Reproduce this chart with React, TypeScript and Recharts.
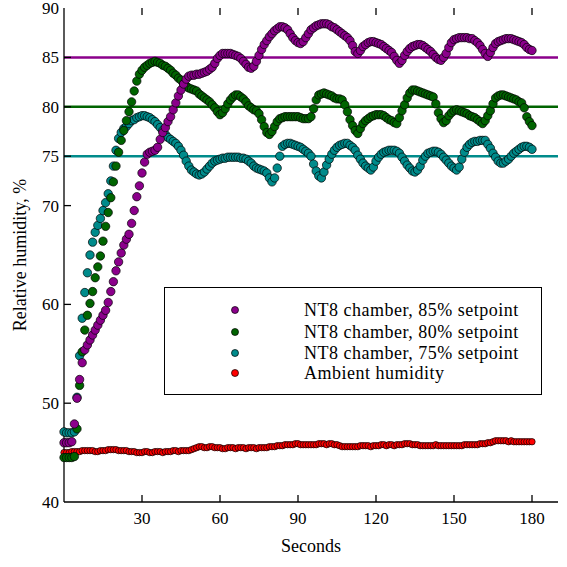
import { ScatterChart, Scatter, XAxis, YAxis, ReferenceLine } from "recharts";

// time of each sample, s
const seconds = [
  0, 1, 2, 3, 4, 5, 6, 7, 8, 9,
  10, 11, 12, 13, 14, 15, 16, 17, 18, 19,
  20, 21, 22, 23, 24, 25, 26, 27, 28, 29,
  30, 31, 32, 33, 34, 35, 36, 37, 38, 39,
  40, 41, 42, 43, 44, 45, 46, 47, 48, 49,
  50, 51, 52, 53, 54, 55, 56, 57, 58, 59,
  60, 61, 62, 63, 64, 65, 66, 67, 68, 69,
  70, 71, 72, 73, 74, 75, 76, 77, 78, 79,
  80, 81, 82, 83, 84, 85, 86, 87, 88, 89,
  90, 91, 92, 93, 94, 95, 96, 97, 98, 99,
  100, 101, 102, 103, 104, 105, 106, 107, 108, 109,
  110, 111, 112, 113, 114, 115, 116, 117, 118, 119,
  120, 121, 122, 123, 124, 125, 126, 127, 128, 129,
  130, 131, 132, 133, 134, 135, 136, 137, 138, 139,
  140, 141, 142, 143, 144, 145, 146, 147, 148, 149,
  150, 151, 152, 153, 154, 155, 156, 157, 158, 159,
  160, 161, 162, 163, 164, 165, 166, 167, 168, 169,
  170, 171, 172, 173, 174, 175, 176, 177, 178, 179,
  180,
];

const chamber85 = [
  46.0, 46.0, 46.0, 46.1, 47.9, 50.5, 52.4, 54.1, 55.4, 55.9,
  56.4, 56.9, 57.4, 57.9, 58.4, 58.9, 59.4, 60.2, 61.3, 62.3,
  63.4, 64.3, 65.2, 66.0, 66.6, 67.1, 68.2, 69.5, 70.9, 72.0,
  73.3, 74.4, 75.2, 75.4, 75.5, 75.6, 75.9, 76.7, 77.4, 77.9,
  78.5, 79.0, 79.7, 80.4, 81.1, 81.7, 82.3, 82.8, 83.1, 83.2,
  83.2, 83.3, 83.3, 83.4, 83.5, 83.6, 83.8, 84.0, 84.4, 84.9,
  85.2, 85.4, 85.4, 85.4, 85.4, 85.3, 85.2, 85.1, 84.9, 84.6,
  84.3, 84.0, 83.9, 84.1, 84.6, 85.2, 85.8, 86.3, 86.7, 87.1,
  87.4, 87.7, 87.9, 88.1, 88.1, 88.0, 87.8, 87.4, 87.0, 86.7,
  86.5, 86.4, 86.6, 87.0, 87.4, 87.8, 88.0, 88.2, 88.3, 88.4,
  88.4, 88.4, 88.3, 88.1, 88.0, 87.8, 87.6, 87.4, 87.2, 87.0,
  86.7, 86.2, 85.6, 85.4, 85.7, 86.1, 86.3, 86.5, 86.6, 86.6,
  86.5, 86.4, 86.3, 86.1, 85.9, 85.7, 85.5, 85.1, 84.7, 84.4,
  84.7, 85.2, 85.6, 85.9, 86.1, 86.2, 86.3, 86.3, 86.2, 86.0,
  85.8, 85.6, 85.3, 85.0, 84.8, 84.7, 85.0, 85.4, 86.0, 86.5,
  86.8, 86.9, 87.0, 87.0, 87.0, 87.0, 86.9, 86.9, 86.7, 86.5,
  86.2, 85.8, 85.4, 85.1, 85.5, 86.0, 86.4, 86.6, 86.7, 86.8,
  86.9, 86.9, 86.9, 86.8, 86.7, 86.6, 86.5, 86.3, 86.0, 85.8,
  85.7,
];

const chamber80 = [
  44.5, 44.5, 44.5, 44.5, 44.6, 47.4, 51.8, 55.2, 57.4, 58.9,
  60.1, 61.3, 62.7, 63.8, 64.9, 66.4, 67.9, 69.3, 70.8, 72.4,
  74.0, 75.4, 76.6, 77.6, 78.6, 79.5, 80.5, 81.6, 82.6, 83.3,
  83.7, 84.0, 84.2, 84.4, 84.5, 84.6, 84.5, 84.4, 84.2, 84.1,
  83.9, 83.7, 83.4, 83.2, 82.9, 82.7, 82.3, 82.1, 81.9, 81.8,
  81.7, 81.6, 81.3, 81.1, 80.9, 80.7, 80.5, 80.2, 79.9, 79.5,
  79.2, 79.4, 79.8, 80.3, 80.7, 81.0, 81.2, 81.2, 81.0, 80.8,
  80.5, 80.1, 79.9, 79.7, 79.6, 79.3, 78.7, 78.0, 77.4, 77.2,
  77.5, 78.0, 78.5, 78.8, 78.9, 79.0, 79.0, 79.0, 79.0, 79.0,
  79.0, 78.9, 78.8, 78.8, 78.8, 79.0, 79.8, 80.7, 81.2, 81.3,
  81.4, 81.3, 81.2, 81.1, 80.9, 80.8, 80.8, 80.7, 80.2, 79.5,
  78.7, 78.1, 77.6, 77.3, 77.8, 78.3, 78.6, 78.8, 79.0, 79.1,
  79.2, 79.2, 79.2, 79.1, 78.9, 78.7, 78.6, 78.4, 78.3, 78.9,
  79.6, 80.2, 80.9, 81.4, 81.7, 81.7, 81.6, 81.5, 81.4, 81.3,
  81.2, 81.1, 81.0, 80.3, 79.4, 78.8, 78.4, 78.6, 79.1, 79.4,
  79.6, 79.7, 79.6, 79.5, 79.4, 79.3, 79.1, 79.0, 78.9, 78.7,
  78.5, 78.3, 78.6, 79.1, 79.6, 80.3, 80.9, 81.1, 81.2, 81.2,
  81.1, 81.0, 80.9, 80.8, 80.7, 80.5, 80.4, 79.9, 79.0, 78.5,
  78.1,
];

const chamber75 = [
  47.1, 47.0, 47.0, 47.0, 47.1, 50.6, 54.8, 58.6, 61.2, 63.2,
  65.0, 66.3, 67.3, 68.0, 68.7, 69.5, 70.3, 71.2, 72.5, 74.0,
  75.6, 76.8, 77.4, 77.8, 78.0, 78.3, 78.6, 78.7, 78.9, 79.0,
  79.1, 79.1, 79.0, 78.9, 78.7, 78.5, 78.2, 77.9, 77.6, 77.2,
  76.9, 76.7, 76.5, 76.3, 76.0, 75.6, 75.1, 74.5, 74.0, 73.6,
  73.4, 73.2, 73.1, 73.2, 73.4, 73.7, 74.0, 74.3, 74.5, 74.6,
  74.7, 74.8, 74.8, 74.9, 74.9, 74.9, 74.9, 74.9, 74.8, 74.8,
  74.7, 74.5, 74.3, 74.0, 73.8, 73.7, 73.6, 73.5, 73.3, 72.8,
  72.4, 72.8, 73.8, 75.0, 76.0, 76.2, 76.3, 76.3, 76.2, 76.1,
  76.0, 75.9, 75.7, 75.5, 75.3, 75.0, 74.2, 73.5, 73.0, 72.8,
  73.4, 74.1, 74.7, 75.2, 75.6, 75.9, 76.1, 76.2, 76.3, 76.3,
  76.1, 75.9, 75.6, 75.1, 74.7, 74.3, 74.0, 73.8, 73.6, 73.9,
  74.5, 74.9, 75.2, 75.4, 75.5, 75.6, 75.6, 75.6, 75.5, 75.3,
  74.9, 74.5, 74.1, 73.8, 73.5, 73.4, 73.6, 74.0, 74.6, 75.0,
  75.3, 75.4, 75.5, 75.5, 75.4, 75.2, 74.9, 74.6, 74.3, 74.0,
  73.8, 73.6, 73.9, 74.7, 75.4, 75.9, 76.2, 76.4, 76.5, 76.5,
  76.6, 76.6, 76.6, 76.2, 75.8, 75.3, 74.9, 74.5, 74.3, 74.3,
  74.5, 74.7, 75.0, 75.3, 75.5, 75.7, 75.9, 76.0, 76.0, 75.9,
  75.7,
];

const ambient = [
  45.0, 45.0, 45.0, 45.1, 45.1, 45.1, 45.1, 45.2, 45.2, 45.2,
  45.2, 45.2, 45.1, 45.1, 45.2, 45.2, 45.2, 45.3, 45.3, 45.3,
  45.3, 45.2, 45.2, 45.2, 45.2, 45.1, 45.1, 45.1, 45.0, 45.0,
  45.0, 45.1, 45.1, 45.0, 45.0, 45.1, 45.1, 45.1, 45.0, 45.1,
  45.1, 45.1, 45.2, 45.2, 45.1, 45.2, 45.2, 45.2, 45.2, 45.3,
  45.4, 45.5, 45.6, 45.6, 45.5, 45.5, 45.6, 45.6, 45.5, 45.5,
  45.5, 45.4, 45.4, 45.5, 45.5, 45.5, 45.4, 45.5, 45.5, 45.5,
  45.4, 45.5, 45.5, 45.5, 45.4, 45.5, 45.5, 45.5, 45.5, 45.6,
  45.6, 45.6, 45.7, 45.7, 45.7, 45.8, 45.8, 45.8, 45.8, 45.9,
  45.9, 45.8, 45.8, 45.8, 45.8, 45.8, 45.8, 45.8, 45.9, 45.9,
  45.9, 45.8, 45.9, 45.9, 45.8, 45.8, 45.7, 45.6, 45.6, 45.6,
  45.6, 45.6, 45.6, 45.6, 45.7, 45.7, 45.7, 45.7, 45.6, 45.7,
  45.7, 45.7, 45.8, 45.8, 45.7, 45.8, 45.8, 45.7, 45.8, 45.8,
  45.8, 45.9, 45.9, 45.9, 45.8, 45.8, 45.8, 45.7, 45.7, 45.7,
  45.7, 45.7, 45.7, 45.8, 45.7, 45.7, 45.7, 45.7, 45.7, 45.7,
  45.7, 45.7, 45.7, 45.7, 45.8, 45.8, 45.8, 45.8, 45.8, 45.8,
  45.9, 45.9, 45.9, 46.0, 46.0, 46.1, 46.2, 46.2, 46.2, 46.2,
  46.2, 46.1, 46.2, 46.1, 46.1, 46.1, 46.1, 46.1, 46.1, 46.1,
  46.1,
];

const setpoints = [85, 80, 75];
const xTicks = [30, 60, 90, 120, 150, 180];
const yTicks = [40, 50, 60, 70, 75, 80, 85, 90];
const seriesNames = [
  "NT8 chamber, 85% setpoint",
  "NT8 chamber, 80% setpoint",
  "NT8 chamber, 75% setpoint",
  "Ambient humidity",
];

const X_MAX = 190;
const Y_MIN = 40;
const Y_MAX = 90;

const PURPLE = "#8b008b";
const GREEN = "#006400";
const TEAL = "#008b8b";
const RED = "#ff0000";
const FONT =
  '"Liberation Serif", LiberationSerif, Tinos, "Times New Roman", Times, "DejaVu Serif", "Noto Serif", FreeSerif, serif';

const toPoints = (values: number[]) =>
  seconds.map((t, i) => ({ t, rh: values[i] }));

const dot = (fill: string, r: number) => (props: any) =>
  props.cx == null ? <g /> : (
    <circle cx={props.cx} cy={props.cy} r={r} fill={fill} stroke="#000" strokeWidth={0.7} />
  );

const tickStyle = { fill: "#000", fontSize: 17, fontFamily: FONT };
const axisLine = { stroke: "#000", strokeWidth: 1.3 };

// inward tick marks, ~7px long in each axis' units
const X_TICK_LEN = 2.7;
const Y_TICK_LEN = 0.7;

const Legend = () => {
  const colors = [PURPLE, GREEN, TEAL, RED];
  const rows = [22, 44, 65, 85];
  return (
    <div
      style={{
        position: "absolute",
        left: 164,
        top: 287,
        width: 376,
        height: 106,
        border: "1px solid #000",
        background: "#fff",
        fontSize: 18,
        letterSpacing: 0.5,
      }}
    >
      {seriesNames.map((name, i) => (
        <div key={name}>
          <svg
            width={10}
            height={10}
            style={{ position: "absolute", left: 65, top: rows[i] - 5 }}
          >
            <circle cx={5} cy={5} r={3.5} fill={colors[i]} stroke="#000" strokeWidth={0.7} />
          </svg>
          <div
            style={{
              position: "absolute",
              left: 139,
              top: rows[i] - 11,
              lineHeight: "22px",
              whiteSpace: "nowrap",
            }}
          >
            {name}
          </div>
        </div>
      ))}
    </div>
  );
};

export default function App() {
  const lineColors = [PURPLE, GREEN, TEAL];
  return (
    <div
      style={{
        position: "absolute",
        left: 0,
        top: 0,
        width: 567,
        height: 567,
        background: "#fff",
        fontFamily: FONT,
      }}
    >
      <ScatterChart width={567} height={567} margin={{ top: 8, right: 9, bottom: 0, left: 0 }}>
        <XAxis
          dataKey="t"
          type="number"
          domain={[0, X_MAX]}
          ticks={xTicks}
          height={65}
          tickSize={0}
          tickMargin={10}
          tick={tickStyle}
          tickLine={false}
          axisLine={axisLine}
        />
        <XAxis
          xAxisId="top"
          orientation="top"
          type="number"
          domain={[0, X_MAX]}
          height={0}
          tick={false}
          tickLine={false}
          axisLine={axisLine}
        />
        <YAxis
          dataKey="rh"
          type="number"
          domain={[Y_MIN, Y_MAX]}
          ticks={yTicks}
          width={64}
          tickSize={0}
          tickMargin={5}
          tick={tickStyle}
          tickLine={false}
          axisLine={axisLine}
          interval={0}
        />
        <YAxis
          yAxisId="right"
          orientation="right"
          type="number"
          domain={[Y_MIN, Y_MAX]}
          width={0}
          tick={false}
          tickLine={false}
          axisLine={axisLine}
        />
        {setpoints.map((v, i) => (
          <ReferenceLine key={v} y={v} stroke={lineColors[i]} strokeWidth={2.5} />
        ))}
        {xTicks.map((t) => (
          <ReferenceLine
            key={"b" + t}
            segment={[{ x: t, y: Y_MIN }, { x: t, y: Y_MIN + Y_TICK_LEN }]}
            stroke="#000"
            strokeWidth={1.3}
          />
        ))}
        {xTicks.map((t) => (
          <ReferenceLine
            key={"t" + t}
            segment={[{ x: t, y: Y_MAX }, { x: t, y: Y_MAX - Y_TICK_LEN }]}
            stroke="#000"
            strokeWidth={1.3}
          />
        ))}
        {yTicks.slice(1, -1).map((v) => (
          <ReferenceLine
            key={"l" + v}
            segment={[{ x: 0, y: v }, { x: X_TICK_LEN, y: v }]}
            stroke="#000"
            strokeWidth={1.3}
          />
        ))}
        <Scatter data={toPoints(ambient)} shape={dot(RED, 3.2)} isAnimationActive={false} />
        <Scatter data={toPoints(chamber75)} shape={dot(TEAL, 4.2)} isAnimationActive={false} />
        <Scatter data={toPoints(chamber80)} shape={dot(GREEN, 4.2)} isAnimationActive={false} />
        <Scatter data={toPoints(chamber85)} shape={dot(PURPLE, 4.2)} isAnimationActive={false} />
      </ScatterChart>
      <Legend />
      <div
        style={{
          position: "absolute",
          left: 0,
          width: 622,
          top: 536,
          textAlign: "center",
          fontSize: 18,
        }}
      >
        Seconds
      </div>
      <div
        style={{
          position: "absolute",
          left: 20,
          top: 255,
          transform: "translate(-50%, -50%) rotate(-90deg)",
          whiteSpace: "nowrap",
          fontSize: 18,
        }}
      >
        Relative humidity, %
      </div>
    </div>
  );
}
